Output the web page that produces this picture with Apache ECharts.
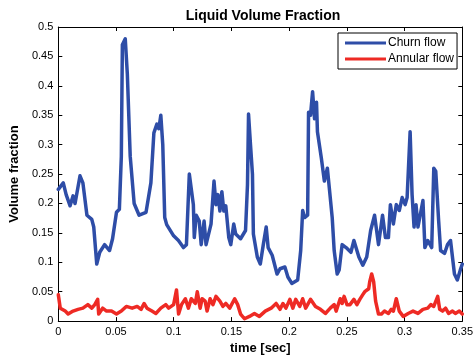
<!DOCTYPE html>
<html>
<head>
<meta charset="utf-8">
<script src="https://cdn.jsdelivr.net/npm/echarts@6/dist/echarts.min.js"></script>
<style>
  html, body { margin: 0; padding: 0; background: #fff; }
  #chart { width: 476px; height: 360px; }
</style>
</head>
<body>
<div id="chart"></div>
<script>
// Churn flow: time [sec] and liquid volume fraction
const churnTime = [0.000,0.0043,0.0068,0.0102,0.0128,0.0145,0.0188,0.0213,0.0248,0.0290,0.0307,0.0333,0.0359,0.0401,0.0444,0.0470,0.0504,0.0529,0.0546,0.0555,0.0580,0.0598,0.0623,0.0657,0.0700,0.0760,0.0802,0.0828,0.0854,0.0871,0.0888,0.0905,0.0922,0.0939,0.0999,0.1041,0.1084,0.1110,0.1135,0.1170,0.1178,0.1195,0.1221,0.1238,0.1263,0.1280,0.1323,0.1349,0.1366,0.1383,0.1400,0.1417,0.1434,0.1451,0.1477,0.1494,0.1520,0.1537,0.1579,0.1622,0.1639,0.1648,0.1665,0.1682,0.1690,0.1724,0.1750,0.1776,0.1801,0.1818,0.1853,0.1895,0.1921,0.1963,0.1989,0.2023,0.2074,0.2100,0.2117,0.2134,0.2160,0.2168,0.2185,0.2203,0.2220,0.2237,0.2245,0.2279,0.2305,0.2331,0.2348,0.2373,0.2390,0.2416,0.2433,0.2459,0.2493,0.2535,0.2561,0.2604,0.2638,0.2672,0.2706,0.2740,0.2774,0.2809,0.2834,0.2860,0.2877,0.2903,0.2928,0.2954,0.2979,0.3005,0.3022,0.3048,0.3065,0.3082,0.3099,0.3116,0.3159,0.3176,0.3201,0.3235,0.3253,0.3270,0.3295,0.3312,0.3346,0.3372,0.3398,0.3432,0.3457,0.3483,0.3500];
const churnFrac = [0.224,0.235,0.215,0.196,0.213,0.200,0.247,0.235,0.180,0.173,0.160,0.097,0.117,0.130,0.120,0.140,0.185,0.190,0.280,0.470,0.480,0.420,0.280,0.200,0.180,0.185,0.235,0.320,0.335,0.327,0.350,0.300,0.176,0.164,0.145,0.137,0.125,0.130,0.250,0.198,0.142,0.180,0.170,0.130,0.170,0.130,0.165,0.238,0.198,0.215,0.187,0.220,0.187,0.196,0.142,0.130,0.165,0.148,0.140,0.154,0.232,0.352,0.300,0.250,0.148,0.109,0.097,0.130,0.160,0.125,0.112,0.080,0.089,0.092,0.075,0.064,0.070,0.120,0.188,0.176,0.180,0.355,0.350,0.390,0.344,0.372,0.322,0.277,0.238,0.260,0.226,0.176,0.120,0.080,0.087,0.130,0.125,0.117,0.137,0.109,0.095,0.109,0.154,0.180,0.130,0.180,0.142,0.142,0.198,0.165,0.198,0.188,0.210,0.198,0.210,0.322,0.215,0.160,0.198,0.160,0.205,0.125,0.137,0.125,0.260,0.255,0.171,0.120,0.115,0.130,0.137,0.080,0.070,0.087,0.097];

// Annular flow: time [sec] and liquid volume fraction
const annularTime = [0.000,0.0017,0.0060,0.0085,0.0128,0.0171,0.0213,0.0256,0.0290,0.0316,0.0341,0.0350,0.0384,0.0418,0.0461,0.0504,0.0546,0.0589,0.0606,0.0640,0.0683,0.0717,0.0743,0.0768,0.0811,0.0845,0.0888,0.0931,0.0956,0.0999,0.1024,0.1042,0.1067,0.1101,0.1127,0.1152,0.1187,0.1204,0.1229,0.1246,0.1272,0.1289,0.1315,0.1340,0.1366,0.1400,0.1426,0.1451,0.1485,0.1528,0.1554,0.1579,0.1613,0.1656,0.1699,0.1742,0.1793,0.1844,0.1887,0.1921,0.1946,0.1972,0.2006,0.2032,0.2057,0.2092,0.2117,0.2143,0.2185,0.2228,0.2271,0.2314,0.2356,0.2390,0.2407,0.2442,0.2459,0.2476,0.2501,0.2527,0.2561,0.2587,0.2612,0.2638,0.2655,0.2689,0.2698,0.2715,0.2732,0.2749,0.2774,0.2800,0.2826,0.2860,0.2885,0.2903,0.2928,0.2954,0.2988,0.3031,0.3073,0.3116,0.3159,0.3201,0.3227,0.3253,0.3287,0.3304,0.3329,0.3355,0.3381,0.3415,0.3440,0.3474,0.3500];
const annularFrac = [0.045,0.022,0.017,0.012,0.017,0.020,0.022,0.028,0.022,0.028,0.037,0.012,0.022,0.017,0.017,0.012,0.017,0.025,0.028,0.022,0.025,0.020,0.030,0.022,0.017,0.013,0.022,0.028,0.022,0.028,0.053,0.012,0.028,0.038,0.022,0.038,0.030,0.050,0.022,0.038,0.034,0.017,0.038,0.028,0.042,0.034,0.025,0.030,0.022,0.038,0.028,0.012,0.004,0.008,0.013,0.008,0.017,0.022,0.030,0.020,0.030,0.022,0.037,0.022,0.037,0.025,0.038,0.022,0.037,0.025,0.020,0.013,0.022,0.028,0.017,0.038,0.030,0.042,0.028,0.028,0.037,0.028,0.037,0.045,0.050,0.055,0.067,0.080,0.067,0.034,0.012,0.012,0.017,0.013,0.020,0.017,0.038,0.017,0.008,0.013,0.017,0.013,0.020,0.022,0.028,0.025,0.042,0.020,0.017,0.022,0.013,0.017,0.013,0.017,0.012];

// Axis tick labels
const xTicks = ['0','0.05','0.1','0.15','0.2','0.25','0.3','0.35'];
const yTicks = ['0','0.05','0.1','0.15','0.2','0.25','0.3','0.35','0.4','0.45','0.5'];

const pair = (xs, ys) => xs.map((x, i) => [x, ys[i]]);
const fmt = (arr) => (v) => {
  const s = arr.find(t => Math.abs(parseFloat(t) - v) < 1e-9);
  return s !== undefined ? s : '';
};

const font = 'Liberation Sans, Arial, sans-serif';
const axisCommon = {
  type: 'value',
  axisLine: { show: true, onZero: false, lineStyle: { color: '#000', width: 1 } },
  axisTick: { show: true, inside: true, length: 4, lineStyle: { color: '#000' } },
  splitLine: { show: false }
};

const chart = echarts.init(document.getElementById('chart'));
chart.setOption({
  animation: false,
  backgroundColor: '#fff',
  title: {
    text: 'Liquid Volume Fraction',
    left: 258, top: 4, textAlign: 'center',
    textStyle: { fontFamily: font, fontSize: 14, fontWeight: 'bold', color: '#000' }
  },
  legend: {
    orient: 'vertical',
    left: 338, top: 33,
    backgroundColor: '#fff',
    borderColor: '#000', borderWidth: 1,
    padding: [4, 3, 4, 7],
    itemGap: 4,
    itemWidth: 41, itemHeight: 3,
    icon: 'rect',
    textStyle: { fontFamily: font, fontSize: 12, color: '#000', padding: [0, 0, 0, -3] },
    data: ['Churn flow', 'Annular flow']
  },
  grid: { left: 55, right: 11, top: 27, bottom: 35, containLabel: false },
  xAxis: [
    Object.assign({}, axisCommon, {
      min: 0, max: 0.35, interval: 0.05,
      position: 'bottom',
      name: 'time [sec]', nameLocation: 'middle', nameGap: 17,
      nameTextStyle: { fontFamily: font, fontSize: 13, fontWeight: 'bold', color: '#000' },
      axisLabel: { fontFamily: font, fontSize: 11, color: '#000', margin: 5, formatter: fmt(xTicks) }
    }),
    Object.assign({}, axisCommon, {
      min: 0, max: 0.35, interval: 0.05,
      position: 'top',
      axisLabel: { show: false }
    })
  ],
  yAxis: [
    Object.assign({}, axisCommon, {
      min: 0, max: 0.5, interval: 0.05,
      position: 'left',
      name: 'Volume fraction', nameLocation: 'middle', nameGap: 37,
      nameTextStyle: { fontFamily: font, fontSize: 13, fontWeight: 'bold', color: '#000' },
      axisLabel: { fontFamily: font, fontSize: 11, color: '#000', margin: 5, formatter: fmt(yTicks) }
    }),
    Object.assign({}, axisCommon, {
      min: 0, max: 0.5, interval: 0.05,
      position: 'right',
      axisLabel: { show: false }
    })
  ],
  series: [
    {
      name: 'Churn flow', type: 'line',
      data: pair(churnTime, churnFrac),
      showSymbol: false, symbol: 'none',
      lineStyle: { color: '#2E4DA7', width: 3.5, join: 'round', cap: 'round' },
      itemStyle: { color: '#2E4DA7' }
    },
    {
      name: 'Annular flow', type: 'line',
      data: pair(annularTime, annularFrac),
      showSymbol: false, symbol: 'none',
      lineStyle: { color: '#EE2A24', width: 3.5, join: 'round', cap: 'round' },
      itemStyle: { color: '#EE2A24' }
    }
  ]
});
</script>
</body>
</html>
